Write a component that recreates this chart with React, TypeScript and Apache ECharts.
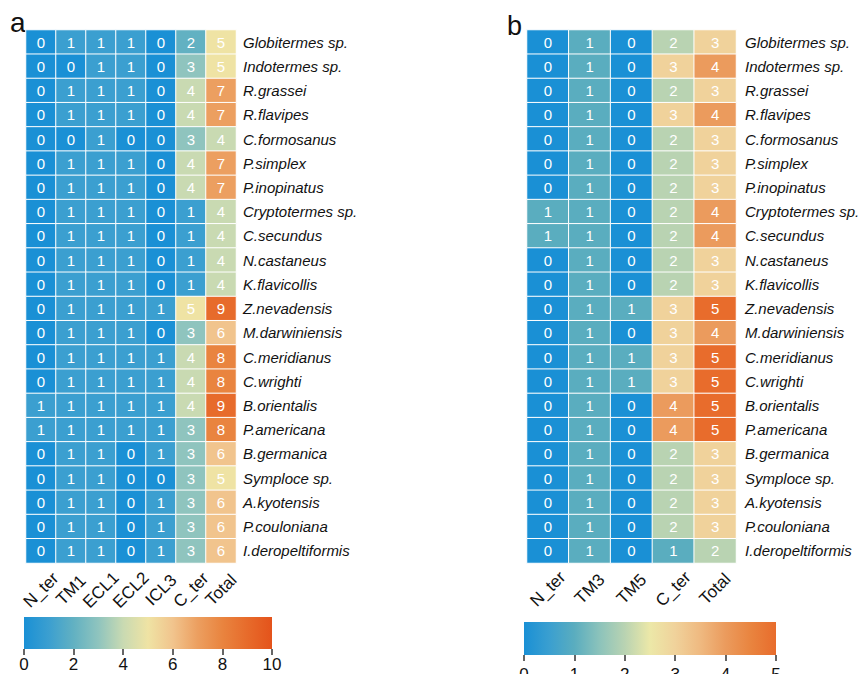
import React, { useEffect, useRef } from "react";
import * as echarts from "echarts";

const species = [
  "Globitermes sp.", "Indotermes sp.", "R.grassei", "R.flavipes", "C.formosanus",
  "P.simplex", "P.inopinatus", "Cryptotermes sp.", "C.secundus", "N.castaneus",
  "K.flavicollis", "Z.nevadensis", "M.darwiniensis", "C.meridianus", "C.wrighti",
  "B.orientalis", "P.americana", "B.germanica", "Symploce sp.", "A.kyotensis",
  "P.couloniana", "I.deropeltiformis",
];

const colsA = ["N_ter", "TM1", "ECL1", "ECL2", "ICL3", "C_ter", "Total"];
const colsB = ["N_ter", "TM3", "TM5", "C_ter", "Total"];

const valuesA = [
  [0, 1, 1, 1, 0, 2, 5],
  [0, 0, 1, 1, 0, 3, 5],
  [0, 1, 1, 1, 0, 4, 7],
  [0, 1, 1, 1, 0, 4, 7],
  [0, 0, 1, 0, 0, 3, 4],
  [0, 1, 1, 1, 0, 4, 7],
  [0, 1, 1, 1, 0, 4, 7],
  [0, 1, 1, 1, 0, 1, 4],
  [0, 1, 1, 1, 0, 1, 4],
  [0, 1, 1, 1, 0, 1, 4],
  [0, 1, 1, 1, 0, 1, 4],
  [0, 1, 1, 1, 1, 5, 9],
  [0, 1, 1, 1, 0, 3, 6],
  [0, 1, 1, 1, 1, 4, 8],
  [0, 1, 1, 1, 1, 4, 8],
  [1, 1, 1, 1, 1, 4, 9],
  [1, 1, 1, 1, 1, 3, 8],
  [0, 1, 1, 0, 1, 3, 6],
  [0, 1, 1, 0, 0, 3, 5],
  [0, 1, 1, 0, 1, 3, 6],
  [0, 1, 1, 0, 1, 3, 6],
  [0, 1, 1, 0, 1, 3, 6],
];

const valuesB = [
  [0, 1, 0, 2, 3],
  [0, 1, 0, 3, 4],
  [0, 1, 0, 2, 3],
  [0, 1, 0, 3, 4],
  [0, 1, 0, 2, 3],
  [0, 1, 0, 2, 3],
  [0, 1, 0, 2, 3],
  [1, 1, 0, 2, 4],
  [1, 1, 0, 2, 4],
  [0, 1, 0, 2, 3],
  [0, 1, 0, 2, 3],
  [0, 1, 1, 3, 5],
  [0, 1, 0, 3, 4],
  [0, 1, 1, 3, 5],
  [0, 1, 1, 3, 5],
  [0, 1, 0, 4, 5],
  [0, 1, 0, 4, 5],
  [0, 1, 0, 2, 3],
  [0, 1, 0, 2, 3],
  [0, 1, 0, 2, 3],
  [0, 1, 0, 2, 3],
  [0, 1, 0, 1, 2],
];

const rangeA = { min: 0, max: 10, step: 2 };
const rangeB = { min: 0, max: 5, step: 1 };

const paletteA = ["#1a90d5", "#3b9fd0", "#62b1c2", "#8fc4be", "#c9dab2", "#efe3a4", "#f1c48d", "#ec9f60", "#e9843f", "#e76b2b", "#e4531b"];
const paletteB = ["#1a90d5", "#3a9fd0", "#5aadbf", "#8cc3bb", "#b9d3b2", "#ece8a8", "#f0d29b", "#efb980", "#eb9b5d", "#e9843f", "#e86c2c"];

const FONT = "'Liberation Sans', Arial, sans-serif";

function toCells(values: number[][]) {
  const out: number[][] = [];
  values.forEach((row, yi) => row.forEach((v, xi) => out.push([xi, yi, v])));
  return out;
}

function gradient(palette: string[]) {
  return new echarts.graphic.LinearGradient(
    0, 0, 1, 0,
    palette.map((c, i) => ({ offset: i / (palette.length - 1), color: c }))
  );
}

export default function App() {
  const ref = useRef<HTMLDivElement>(null);
  useEffect(() => {
    if (!ref.current) return;
    const chart = echarts.init(ref.current, undefined, { renderer: "svg" });

    const heatXAxis = (cols: string[], gridIndex: number, margin: number) => ({
      type: "category",
      gridIndex,
      data: cols,
      position: "bottom",
      axisLine: { show: false },
      axisTick: { show: false },
      splitLine: { show: false },
      axisLabel: {
        rotate: 45,
        align: "center",
        verticalAlign: "middle",
        margin,
        fontSize: 17,
        color: "#111",
        fontFamily: FONT,
        interval: 0,
      },
    });
    const heatYAxis = (gridIndex: number, margin: number) => ({
      type: "category",
      gridIndex,
      data: species,
      inverse: true,
      position: "right",
      axisLine: { show: false },
      axisTick: { show: false },
      splitLine: { show: false },
      axisLabel: {
        margin,
        fontSize: 15,
        fontStyle: "italic",
        color: "#111",
        fontFamily: FONT,
        interval: 0,
      },
    });
    const barXAxis = (gridIndex: number, r: { min: number; max: number; step: number }, margin: number) => ({
      type: "value",
      gridIndex,
      min: r.min,
      max: r.max,
      interval: r.step,
      axisLine: { show: false },
      axisTick: { show: true, length: 6, lineStyle: { color: "#333", width: 1.5 } },
      splitLine: { show: false },
      axisLabel: { fontSize: 17, color: "#111", fontFamily: FONT, margin },
    });
    const barYAxis = (gridIndex: number) => ({
      type: "value",
      gridIndex,
      min: 0,
      max: 1,
      show: false,
    });

    const heatSeries = (values: number[][], idx: number) => ({
      type: "heatmap",
      xAxisIndex: idx,
      yAxisIndex: idx,
      data: toCells(values),
      itemStyle: { borderColor: "#ffffff", borderWidth: 1 },
      label: {
        show: true,
        color: "#ffffff",
        fontSize: 15,
        fontFamily: FONT,
        formatter: (p: any) => String(p.value[2]),
      },
      emphasis: { disabled: true },
    });

    const barSeries = (idx: number, r: { min: number; max: number }, palette: string[]) => ({
      type: "custom",
      xAxisIndex: idx,
      yAxisIndex: idx,
      data: [[r.min, 0]],
      silent: true,
      renderItem: (_params: any, api: any) => {
        const p0 = api.coord([r.min, 1]);
        const p1 = api.coord([r.max, 0]);
        return {
          type: "rect",
          shape: { x: p0[0], y: p0[1], width: p1[0] - p0[0], height: p1[1] - p0[1] },
          style: { fill: gradient(palette) },
        };
      },
    });

    chart.setOption({
      animation: false,
      backgroundColor: "#ffffff",
      textStyle: { fontFamily: FONT },
      grid: [
        { left: 26, top: 30, width: 210, height: 533, outerBoundsMode: "none", containLabel: false },
        { left: 527, top: 30, width: 209, height: 533, outerBoundsMode: "none", containLabel: false },
        { left: 24, top: 617, width: 248, height: 32, outerBoundsMode: "none", containLabel: false },
        { left: 524, top: 622, width: 252, height: 33, outerBoundsMode: "none", containLabel: false },
      ],
      xAxis: [
        heatXAxis(colsA, 0, 27),
        heatXAxis(colsB, 1, 26),
        barXAxis(2, rangeA, 7),
        barXAxis(3, rangeB, 11),
      ],
      yAxis: [heatYAxis(0, 7), heatYAxis(1, 9), barYAxis(2), barYAxis(3)],
      visualMap: [
        {
          type: "continuous",
          show: false,
          seriesIndex: 0,
          dimension: 2,
          min: rangeA.min,
          max: rangeA.max,
          inRange: { color: paletteA },
        },
        {
          type: "continuous",
          show: false,
          seriesIndex: 1,
          dimension: 2,
          min: rangeB.min,
          max: rangeB.max,
          inRange: { color: paletteB },
        },
      ],
      graphic: [
        { type: "text", left: 10, top: 8, style: { text: "a", fontSize: 28, fontFamily: FONT, fill: "#111" } },
        { type: "text", left: 507, top: 12, style: { text: "b", fontSize: 27, fontFamily: FONT, fill: "#111" } },
      ],
      series: [
        heatSeries(valuesA, 0),
        heatSeries(valuesB, 1),
        barSeries(2, rangeA, paletteA),
        barSeries(3, rangeB, paletteB),
      ],
    });
    return () => chart.dispose();
  }, []);
  return (
    <div
      ref={ref}
      style={{ position: "fixed", left: 0, top: 0, width: 859, height: 674, background: "#fff" }}
    />
  );
}
